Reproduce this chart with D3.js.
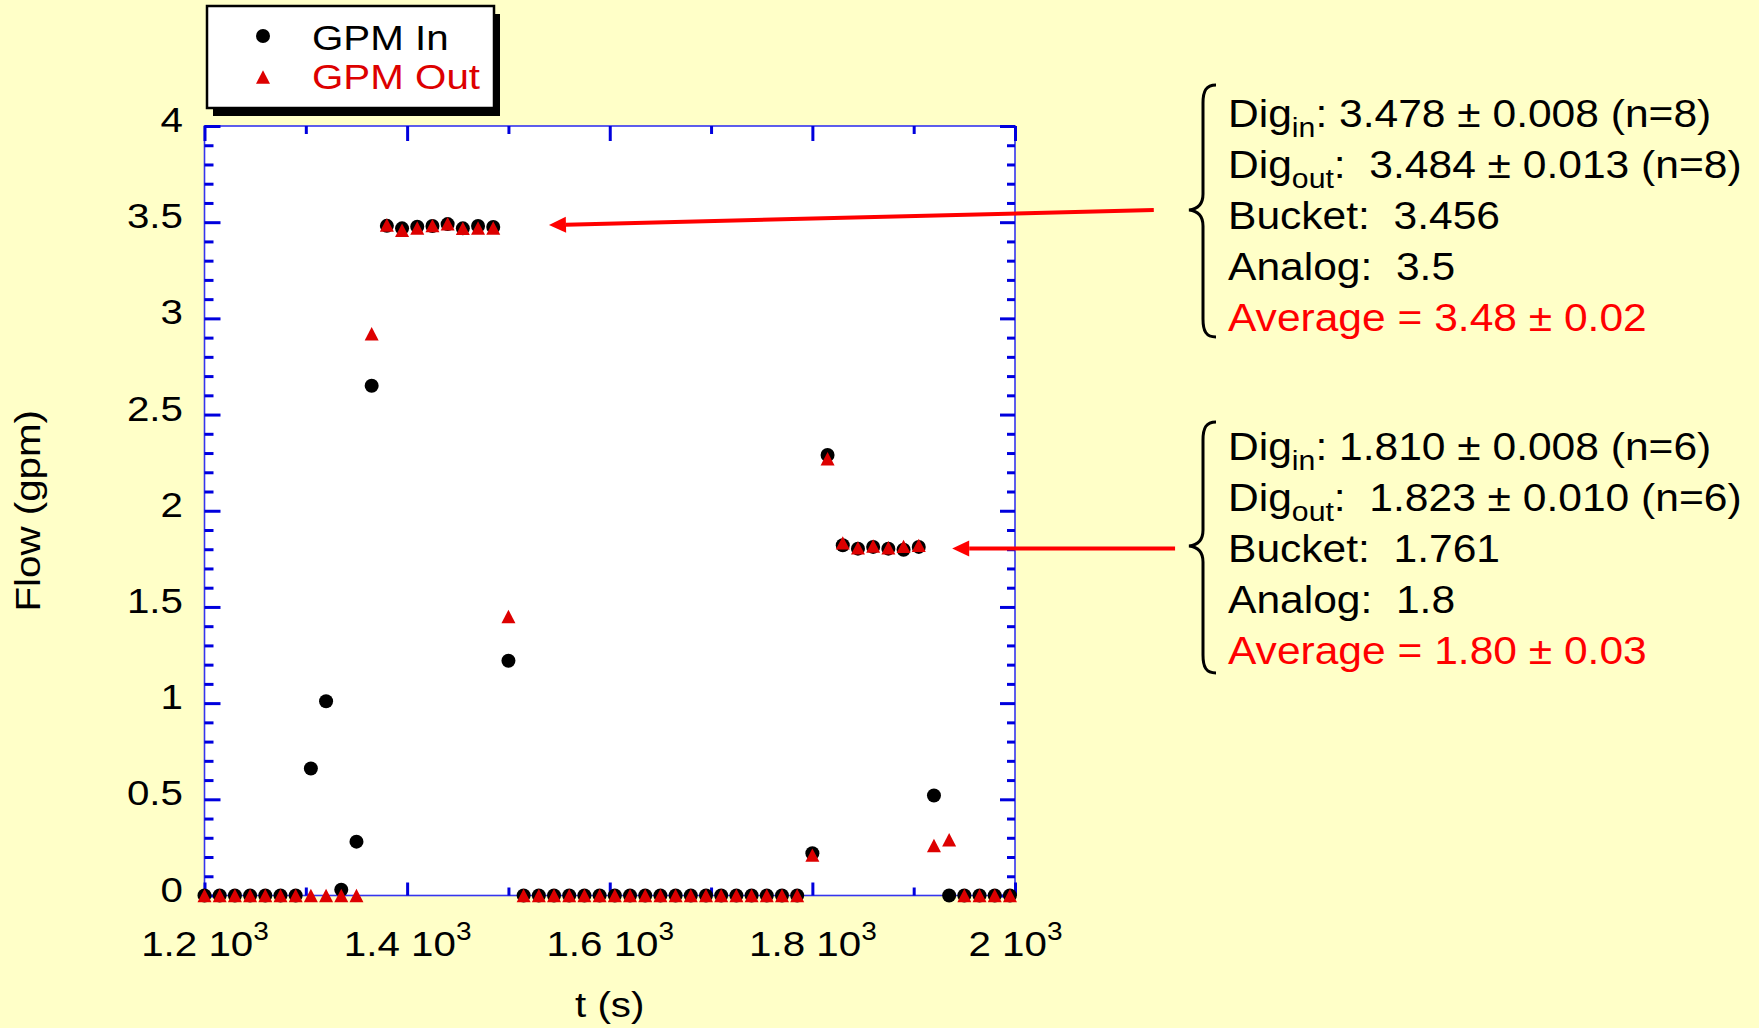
<!DOCTYPE html>
<html><head><meta charset="utf-8">
<script src="https://cdn.jsdelivr.net/npm/d3@7"></script>
<style>
body{margin:0;background:#ffffc8;}
svg{display:block;}
text{font-family:"Liberation Sans",Arial,Helvetica,sans-serif;white-space:pre;}
</style></head><body>
<svg id="chart" width="1759" height="1028"></svg>
<script>
// ---------------- data ----------------
const times = [1200,1215,1230,1245,1260,1275,1290,1305,1320,1335,1350,1365,
  1380,1395,1410,1425,1440,1455,1470,1485,1500,
  1515,1530,1545,1560,1575,1590,1605,1620,1635,1650,1665,1680,1695,1710,1725,1740,1755,1770,1785,
  1800,1815,1830,1845,1860,1875,1890,1905,1920,1935,1950,1965,1980,1995];
const gpmIn = [0,0,0,0,0,0,0, 0.66,1.01,0.03,0.28, 2.65,
  3.481,3.468,3.476,3.480,3.490,3.468,3.480,3.475, 1.22,
  0,0,0,0,0,0,0,0,0,0,0,0,0,0,0,0,0,0,0,
  0.22,2.29, 1.821,1.803,1.812,1.803,1.797,1.812, 0.52,0, 0,0,0,0];
const gpmOut = [0,0,0,0,0,0,0, 0,0,0,0, 2.92,
  3.485,3.458,3.470,3.482,3.492,3.468,3.470,3.470, 1.45,
  0,0,0,0,0,0,0,0,0,0,0,0,0,0,0,0,0,0,0,
  0.21,2.27, 1.833,1.807,1.817,1.808,1.815,1.820, 0.26,0.29, 0,0,0,0];
const seriesNames = ["GPM In","GPM Out"];
const yMajorTicks = [0,0.5,1,1.5,2,2.5,3,3.5,4];
const yTickLabels = ["0","0.5","1","1.5","2","2.5","3","3.5","4"];
const yMinorTicks = [0.1,0.2,0.3,0.4,0.6,0.7,0.8,0.9,1.1,1.2,1.3,1.4,1.6,1.7,1.8,1.9,2.1,2.2,2.3,2.4,2.6,2.7,2.8,2.9,3.1,3.2,3.3,3.4,3.6,3.7,3.8,3.9];
const xMajorTicks = [1200,1400,1600,1800,2000];
const xTickMantissa = ["1.2","1.4","1.6","1.8","2"];
const xTickExponent = "3";
const xMinorTicks = [1300,1500,1700,1900];
const xTitle = "t (s)";
const yTitle = "Flow (gpm)";
const annot1 = [
  [["Dig",""],["in","sub"],[": 3.478 ± 0.008 (n=8)",""]],
  [["Dig",""],["out","sub"],[":  3.484 ± 0.013 (n=8)",""]],
  [["Bucket:  3.456",""]],
  [["Analog:  3.5",""]],
  [["Average = 3.48 ± 0.02","red"]]
];
const annot2 = [
  [["Dig",""],["in","sub"],[": 1.810 ± 0.008 (n=6)",""]],
  [["Dig",""],["out","sub"],[":  1.823 ± 0.010 (n=6)",""]],
  [["Bucket:  1.761",""]],
  [["Analog:  1.8",""]],
  [["Average = 1.80 ± 0.03","red"]]
];
// arrows in data units: [fromT, fromFlow, toT, toFlow]
const arrow1 = [2137, 3.563, 1540, 3.485];
const arrow2 = [2158, 1.804, 1938, 1.804];

// ---------------- drawing ----------------
const SX = 1.12; // horizontal text stretch of the original
const FS = 36, FA = 38;
const BLUE = "#0000dd", MRED = "#dd0000", RED = "#ff0000";
const svg = d3.select("#chart");
svg.append("rect").attr("width",1759).attr("height",1028).attr("fill","#ffffc8");

const x = d3.scaleLinear().domain([1200,2000]).range([204.5,1015]);
const y = d3.scaleLinear().domain([0,4]).range([895.5,126]);

svg.append("rect").attr("x",x(1200)).attr("y",y(4)).attr("width",x(2000)-x(1200)).attr("height",y(0)-y(4))
  .attr("fill","#ffffff").attr("stroke","#3535ee").attr("stroke-width",1.6);

function styleAxis(g){
  g.select(".domain").remove();
  g.selectAll(".tick line").attr("stroke",BLUE).attr("stroke-width",3);
  g.attr("font-family",null).attr("font-size",null);
}
// left
svg.append("g").attr("transform",`translate(${x(1200)},0)`)
  .call(d3.axisLeft(y).tickValues(yMinorTicks).tickSize(-9).tickFormat("")).call(styleAxis);
const gl = svg.append("g").attr("transform",`translate(${x(1200)},0)`)
  .call(d3.axisLeft(y).tickValues(yMajorTicks).tickSize(-16).tickFormat((d,i)=>yTickLabels[i])).call(styleAxis);
gl.selectAll(".tick text").attr("x",0).attr("dy",null).attr("fill","#000")
  .attr("font-size",FS).attr("text-anchor","end")
  .attr("transform",`translate(-21.5,5.5) scale(${SX},1)`);
// right
svg.append("g").attr("transform",`translate(${x(2000)},0)`)
  .call(d3.axisRight(y).tickValues(yMinorTicks).tickSize(-8).tickFormat("")).call(styleAxis);
svg.append("g").attr("transform",`translate(${x(2000)},0)`)
  .call(d3.axisRight(y).tickValues(yMajorTicks).tickSize(-15).tickFormat("")).call(styleAxis);
// top
svg.append("g").attr("transform",`translate(0,${y(4)})`)
  .call(d3.axisTop(x).tickValues(xMinorTicks).tickSize(-8).tickFormat("")).call(styleAxis);
svg.append("g").attr("transform",`translate(0,${y(4)})`)
  .call(d3.axisTop(x).tickValues(xMajorTicks).tickSize(-15).tickFormat("")).call(styleAxis);
// bottom
svg.append("g").attr("transform",`translate(0,${y(0)})`)
  .call(d3.axisBottom(x).tickValues(xMinorTicks).tickSize(-8).tickFormat("")).call(styleAxis);
const gb = svg.append("g").attr("transform",`translate(0,${y(0)})`)
  .call(d3.axisBottom(x).tickValues(xMajorTicks).tickSize(-13).tickFormat("")).call(styleAxis);
gb.selectAll(".tick text").attr("y",0).attr("dy",null).attr("fill","#000")
  .attr("font-size",FS).attr("text-anchor","middle")
  .attr("transform",`translate(0,60.5) scale(${SX},1)`)
  .each(function(d,i){
    const t = d3.select(this);
    t.append("tspan").text(xTickMantissa[i] + " 10");
    t.append("tspan").attr("font-size",25).attr("dy",-16).text(xTickExponent);
  });

// axis titles
svg.append("text").attr("transform",`translate(${(x(1200)+x(2000))/2},1017) scale(${SX},1)`)
  .attr("text-anchor","middle").attr("font-size",FS).text(xTitle);
svg.append("text").attr("transform",`translate(40,${(y(0)+y(4))/2}) rotate(-90) scale(${SX},1)`)
  .attr("text-anchor","middle").attr("font-size",FS).text(yTitle);

// markers
const tri = "M0,-6.7L7,6.7L-7,6.7Z";
const pts = times.map((t,i)=>({t, a:gpmIn[i], b:gpmOut[i]}));
svg.append("g").selectAll("circle").data(pts).join("circle")
  .attr("cx",d=>x(d.t)).attr("cy",d=>y(d.a)).attr("r",7).attr("fill","#000");
svg.append("g").selectAll("path").data(pts).join("path")
  .attr("d",tri).attr("transform",d=>`translate(${x(d.t)},${y(d.b)})`).attr("fill",MRED);

// legend
const lg = svg.append("g");
lg.append("rect").attr("x",213).attr("y",14).attr("width",287).attr("height",102).attr("fill","#000");
lg.append("rect").attr("x",207).attr("y",6).attr("width",287).attr("height",102)
  .attr("fill","#fff").attr("stroke","#000").attr("stroke-width",2.5);
lg.append("circle").attr("cx",263).attr("cy",36).attr("r",7).attr("fill","#000");
lg.append("path").attr("d",tri).attr("transform","translate(263,77)").attr("fill",MRED);
lg.append("text").attr("transform",`translate(312,50) scale(${SX},1)`).attr("font-size",FS).attr("fill","#000").text(seriesNames[0]);
lg.append("text").attr("transform",`translate(312,89) scale(${SX},1)`).attr("font-size",FS).attr("fill",MRED).text(seriesNames[1]);

// annotations
function block(lines, x0, y0, top, bottom, mid){
  const g = svg.append("g");
  lines.forEach((segs,li)=>{
    const t = g.append("text").attr("transform",`translate(${x0},${y0+li*51}) scale(${SX},1)`).attr("font-size",FA);
    let shifted = false;
    segs.forEach(([s,kind])=>{
      const ts = t.append("tspan").text(s);
      if(kind==="sub"){ ts.attr("font-size",27).attr("dy",10); shifted=true; }
      else { if(shifted){ ts.attr("dy",-10); shifted=false; } ts.attr("fill", kind==="red"?RED:"#000"); }
    });
  });
  const xe=1216, xv=1203, xt=1189;
  const p = `M${xe},${top} C${xv+3},${top} ${xv},${top+6} ${xv},${top+18} L${xv},${mid-16} C${xv},${mid-6} ${xv-5},${mid-1} ${xt},${mid} C${xv-5},${mid+1} ${xv},${mid+6} ${xv},${mid+16} L${xv},${bottom-18} C${xv},${bottom-6} ${xv+3},${bottom} ${xe},${bottom}`;
  g.append("path").attr("d",p).attr("fill","none").attr("stroke","#000").attr("stroke-width",3);
}
block(annot1, 1228, 127, 85, 337, 210);
block(annot2, 1228, 460, 422, 673, 546);

function arrow(a){
  const x1=x(a[0]), y1=y(a[1]), x2=x(a[2]), y2=y(a[3]);
  const ang = Math.atan2(y2-y1, x2-x1), L=17, W=8;
  const bx = x2 - L*Math.cos(ang), by = y2 - L*Math.sin(ang);
  svg.append("line").attr("x1",x1).attr("y1",y1).attr("x2",bx).attr("y2",by).attr("stroke",RED).attr("stroke-width",4);
  svg.append("path").attr("d",`M${x2},${y2}L${bx - W*Math.sin(ang)},${by + W*Math.cos(ang)}L${bx + W*Math.sin(ang)},${by - W*Math.cos(ang)}Z`).attr("fill",RED);
}
arrow(arrow1);
arrow(arrow2);
</script>
</body></html>
